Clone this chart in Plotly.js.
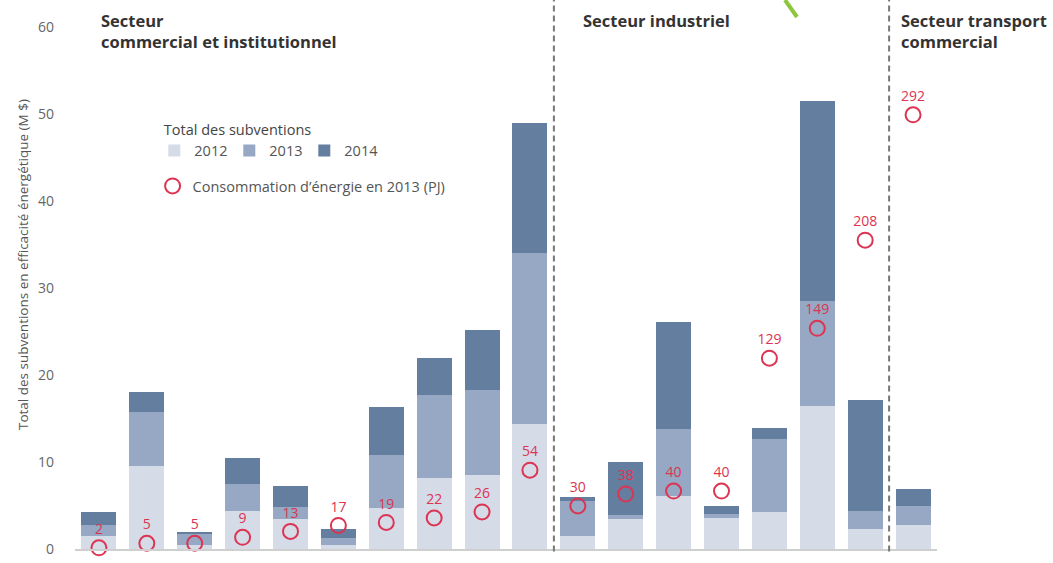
<!DOCTYPE html>
<html>
<head>
<meta charset="utf-8">
<script src="https://cdn.plot.ly/plotly-3.0.1.min.js"></script>
<style>
html,body{margin:0;padding:0;background:#fff;}
#chart{width:1053px;height:563px;}
</style>
</head>
<body>
<div id="chart"></div>
<script>
// Categories (18 sub-sectors, unlabeled in the original)
var categories = ['1','2','3','4','5','6','7','8','9','10','11','12','13','14','15','16','17','18'];
// Subsidies (M $) per year, stacked
var subv2012 = [1.5, 9.5, 0.5, 4.35, 3.5, 0.5, 4.7, 8.15, 8.45, 14.4, 1.55, 3.45, 6.15, 3.6, 4.25, 16.45, 2.3, 2.8];
var subv2013 = [1.3, 6.2, 1.2, 3.15, 1.3, 0.8, 6.15, 9.55, 9.85, 19.6, 3.95, 0.45, 7.7, 0.45, 8.35, 12.05, 2.05, 2.2];
var subv2014 = [1.4, 2.3, 0.3, 3.0, 2.4, 1.0, 5.45, 4.2, 6.9, 15.0, 0.45, 6.1, 12.25, 0.95, 1.35, 23.0, 12.75, 1.9];
// Energy consumption in 2013 (PJ)
var energie2013 = [2, 5, 5, 9, 13, 17, 19, 22, 26, 54, 30, 38, 40, 40, 129, 149, 208, 292];
// Axis ticks
var yTicks = [0, 10, 20, 30, 40, 50, 60];
// Sector labels
var sectorTitles = ['Secteur<br>commercial et institutionnel', 'Secteur industriel', 'Secteur transport<br>commercial'];

var FONT = 'Open Sans, Noto Sans, sans-serif';
var RED = '#dc3452';

var traces = [
  {type:'bar', name:'2012', x:categories, y:subv2012, marker:{color:'#d5dce8'}, hoverinfo:'skip'},
  {type:'bar', name:'2013', x:categories, y:subv2013, marker:{color:'#96a8c3'}, hoverinfo:'skip'},
  {type:'bar', name:'2014', x:categories, y:subv2014, marker:{color:'#647ea0'}, hoverinfo:'skip'},
  {type:'scatter', mode:'markers+text', name:'Consommation d\u2019énergie en 2013 (PJ)',
   x:categories, y:energie2013, yaxis:'y2', legend:'legend2',
   text:energie2013.map(String), textposition:'top center',
   textfont:{family:FONT, size:14, color:RED},
   marker:{symbol:'circle-open', size:15, color:RED, line:{width:2, color:RED}},
   hoverinfo:'skip', cliponaxis:false}
];

var layout = {
  width:1053, height:563,
  margin:{l:75, r:116, t:27, b:14},
  paper_bgcolor:'#fff', plot_bgcolor:'#fff',
  font:{family:FONT, color:'#555'},
  barmode:'stack', bargap:0.27,
  showlegend:true,
  xaxis:{type:'category', range:[-0.5,17.5], showticklabels:false, ticks:'',
         showgrid:false, zeroline:false, showline:true, linecolor:'#cfcfcf', linewidth:2, fixedrange:true},
  yaxis:{range:[0,60], tickvals:yTicks, ticktext:yTicks.map(String), showgrid:false, zeroline:false,
         showline:false, ticks:'', ticklabelstandoff:20, tickfont:{family:FONT, size:14, color:'#666'}, fixedrange:true},
  yaxis2:{overlaying:'y', range:[1.2,350.8], visible:false, fixedrange:true},
  legend:{orientation:'h', x:0.092, xanchor:'left', y:0.83, yanchor:'top', traceorder:'normal',
          entrywidth:30,
          bgcolor:'rgba(0,0,0,0)', font:{family:FONT, size:14.5, color:'#555'},
          title:{text:'\u00a0\u00a0Total des subventions', side:'top', font:{family:FONT, size:14.5, color:'#444'}},
          itemclick:false, itemdoubleclick:false},
  legend2:{orientation:'h', x:0.09, xanchor:'left', y:0.726, yanchor:'top',
          bgcolor:'rgba(0,0,0,0)', font:{family:FONT, size:14.5, color:'#555'},
          itemclick:false, itemdoubleclick:false},
  annotations:[
    {text:'<b>'+sectorTitles[0]+'</b>', xref:'paper', yref:'paper', x:(99-75)/862, y:(549-7)/522,
     xanchor:'left', yanchor:'top', align:'left', showarrow:false, font:{family:FONT, size:16.5, color:'#333'}},
    {text:'<b>'+sectorTitles[1]+'</b>', xref:'paper', yref:'paper', x:(581-75)/862, y:(549-7)/522,
     xanchor:'left', yanchor:'top', align:'left', showarrow:false, font:{family:FONT, size:16.5, color:'#333'}},
    {text:'<b>'+sectorTitles[2]+'</b>', xref:'paper', yref:'paper', x:(899-75)/862, y:(549-7)/522,
     xanchor:'left', yanchor:'top', align:'left', showarrow:false, font:{family:FONT, size:16.5, color:'#333'}},
    {text:'Total des subventions en efficacité énergétique (M $)', xref:'paper', yref:'paper',
     x:(23-75)/862, y:(549-265)/522, xanchor:'center', yanchor:'middle', textangle:-90, showarrow:false,
     font:{family:FONT, size:13.5, color:'#555'}}
  ],
  shapes:[
    {type:'line', xref:'x', yref:'paper', x0:9.5, x1:9.5, y0:-0.005, y1:1.052, line:{color:'#777', width:2, dash:'6px,4px'}},
    {type:'line', xref:'x', yref:'paper', x0:16.5, x1:16.5, y0:-0.005, y1:1.052, line:{color:'#777', width:2, dash:'6px,4px'}},
    {type:'line', xref:'paper', yref:'paper', x0:(785-75)/862, x1:(797-75)/862, y0:(549-0)/522, y1:(549-17)/522,
     line:{color:'#8cc63f', width:4}}
  ]
};

Plotly.newPlot('chart', traces, layout, {displayModeBar:false, staticPlot:true});
</script>
</body>
</html>
